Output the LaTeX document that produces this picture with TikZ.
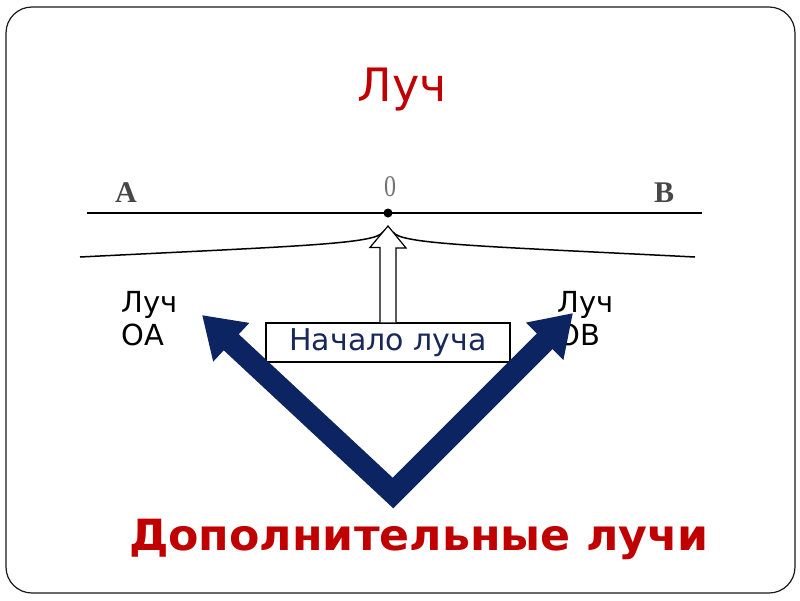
\documentclass[tikz,border=0pt]{standalone}
\usepackage{fontspec}
\setmainfont{DejaVu Sans}
\newfontfamily\serifbold{Liberation Serif}
\usetikzlibrary{arrows.meta}
\definecolor{titlered}{RGB}{192,0,0}
\definecolor{navy}{RGB}{12,36,98}
\definecolor{boxtext}{RGB}{25,40,90}
\tikzset{
  lbl/.style={inner sep=0pt, align=left, font=\fontsize{29}{33}\selectfont},
  pointlbl/.style={inner sep=0pt, font=\serifbold\bfseries\fontsize{30}{30}\selectfont, text=black!72},
  bigarrow/.style={line width=22pt, line join=miter, draw=navy,
     {Triangle[width=50pt,length=40pt]}-{Triangle[width=50pt,length=40pt]}},
  hollow/.style={draw=black, fill=white, line width=1.2pt, line join=miter}
}
\begin{document}
\begin{tikzpicture}[x=1pt,y=-1pt]
\useasboundingbox (0,0) rectangle (800,600);
\draw[black!90, line width=1.2pt, rounded corners=26pt] (6,7) rectangle (795,593);
\node[text=titlered, font=\fontsize{46}{46}\selectfont, inner sep=0pt] (title) at (402,90) {Луч};
% line
\coordinate (lA) at (87,213);
\coordinate (lB) at (702,213);
\draw[line width=1.8pt] (lA) -- (lB);
\node[circle, fill=black, inner sep=0pt, minimum size=9pt] (O) at (388,213) {};
\node[pointlbl] (A) at (126,193) {A};
\node[pointlbl] (B) at (664,193) {B};
\node[inner sep=0pt, font=\serifbold\fontsize{30}{30}\selectfont, text=black!55, xscale=0.8] (zero) at (390,187) {0};
% brace
\coordinate (bl) at (80,257);
\coordinate (blc) at (383,232);
\coordinate (brc) at (393,232);
\coordinate (br) at (695,257);
\draw[line width=1.5pt] (bl) .. controls (300,246) and (376,244) .. (blc);
\draw[line width=1.5pt] (brc) .. controls (400,244) and (476,246) .. (br);
% labels
\node[lbl, anchor=base west] (la) at (121,345) {Луч\\ОА};
\node[lbl, anchor=base west] (lb) at (557,345) {Луч\\ОВ};
% box
\node[draw=black, line width=1.2pt, fill=white, minimum width=244pt, minimum height=39pt, inner sep=0pt,
  text=boxtext, font=\fontsize{30}{30}\selectfont] (box) at (388,342.5) {Начало луча};
% hollow arrow
\draw[hollow] ([xshift=-8pt]box.north) -- ++(0,-75) -- ++(-10,0) -- (388,226) -- (406,248) -- ++(-10,0) -- ([xshift=8pt]box.north);
% thick arrows
\coordinate (v) at (393,493);
\coordinate (tl) at (202,315);
\coordinate (tr) at (573,313);
\draw[bigarrow] (tl) -- (v) -- (tr);
\node[text=titlered, font=\bfseries\fontsize{43}{43}\selectfont, inner sep=0pt, xscale=1.03] (bottom) at (419,539) {Дополнительные лучи};
\end{tikzpicture}
\end{document}
